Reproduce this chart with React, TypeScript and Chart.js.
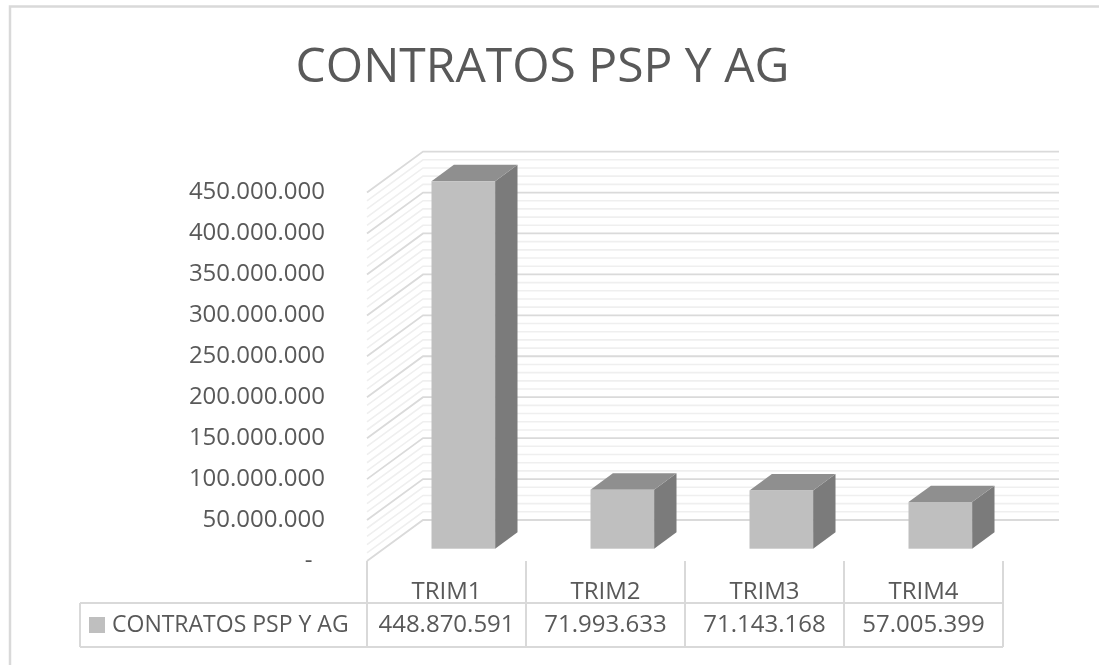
import React, { useEffect, useRef } from "react";
import { Chart, registerables } from "chart.js";

Chart.register(...registerables);

const TITLE = "CONTRATOS PSP Y AG";
const SERIES_NAME = "CONTRATOS PSP Y AG";
const categories = ["TRIM1", "TRIM2", "TRIM3", "TRIM4"];
const values = [448870591, 71993633, 71143168, 57005399];
const Y_MAX = 450000000;
const Y_MAJOR = 50000000;
const Y_MINOR = 10000000;

const FONT = "'Open Sans', 'Noto Sans', sans-serif";
const TEXT = "#595959";
const LINE = "#d9d9d9";

// 3D geometry (depth of the plot box)
const DX = 56;
const DY = -41;
const GAP_FRONT = 0.3;
const BAR_DEPTH = 0.4;

const fmt = (n: number) =>
  Math.round(n).toString().replace(/\B(?=(\d{3})+(?!\d))/g, ".");

const threeD = {
  id: "threeD",
  beforeDraw(chart: any) {
    const { ctx } = chart;
    ctx.save();
    ctx.strokeStyle = LINE;
    ctx.lineWidth = 2.5;
    ctx.strokeRect(10, 6.5, 1200, 800);
    ctx.restore();
  },
  beforeDatasetsDraw(chart: any) {
    const { ctx, chartArea } = chart;
    const ys = chart.scales.y;
    const L = chartArea.left;
    const R = chartArea.right;
    ctx.save();
    const drawLine = (v: number, color: string, w: number) => {
      const y = ys.getPixelForValue(v);
      ctx.strokeStyle = color;
      ctx.lineWidth = w;
      ctx.beginPath();
      ctx.moveTo(L, y);
      ctx.lineTo(L + DX, y + DY);
      ctx.lineTo(R + DX, y + DY);
      ctx.stroke();
    };
    for (let v = 0; v <= Y_MAX; v += Y_MINOR) {
      if (v % Y_MAJOR !== 0) drawLine(v, "#efefef", 1.6);
    }
    for (let v = 0; v <= Y_MAX; v += Y_MAJOR) drawLine(v, "#dadada", 1.8);
    ctx.restore();
  },
  afterDatasetsDraw(chart: any) {
    const { ctx } = chart;
    const meta = chart.getDatasetMeta(0);
    const ox = DX * GAP_FRONT;
    const oy = DY * GAP_FRONT;
    const bx = DX * BAR_DEPTH;
    const by = DY * BAR_DEPTH;
    ctx.save();
    meta.data.forEach((el: any) => {
      const { x, y, base, width } = el.getProps(["x", "y", "base", "width"], true);
      const x0 = x - width / 2 + ox;
      const x1 = x + width / 2 + ox;
      const y0 = y + oy;
      const y1 = base + oy;
      // right side
      ctx.fillStyle = "#7b7b7b";
      ctx.beginPath();
      ctx.moveTo(x1, y0);
      ctx.lineTo(x1 + bx, y0 + by);
      ctx.lineTo(x1 + bx, y1 + by);
      ctx.lineTo(x1, y1);
      ctx.closePath();
      ctx.fill();
      // top
      ctx.fillStyle = "#8f8f8f";
      ctx.beginPath();
      ctx.moveTo(x0, y0);
      ctx.lineTo(x1, y0);
      ctx.lineTo(x1 + bx, y0 + by);
      ctx.lineTo(x0 + bx, y0 + by);
      ctx.closePath();
      ctx.fill();
      // front
      ctx.fillStyle = "#bfbfbf";
      ctx.fillRect(x0, y0, x1 - x0, y1 - y0);
    });
    ctx.restore();
  },
  afterDraw(chart: any) {
    const { ctx, chartArea } = chart;
    const xs = chart.scales.x;
    const L = chartArea.left;
    const R = chartArea.right;
    const top = chartArea.bottom;
    const mid = top + 42;
    const bot = mid + 44;
    const legLeft = 80;
    const n = categories.length;
    const cw = (R - L) / n;
    ctx.save();
    ctx.strokeStyle = LINE;
    ctx.lineWidth = 2;
    ctx.beginPath();
    for (let i = 0; i <= n; i++) {
      const x = L + i * cw;
      ctx.moveTo(x, top);
      ctx.lineTo(x, bot);
    }
    ctx.moveTo(legLeft, mid);
    ctx.lineTo(R, mid);
    ctx.moveTo(legLeft, bot);
    ctx.lineTo(R, bot);
    ctx.moveTo(legLeft, mid);
    ctx.lineTo(legLeft, bot);
    ctx.stroke();

    const rowY = (mid + bot) / 2;
    ctx.fillStyle = "#bfbfbf";
    ctx.fillRect(89, rowY - 8, 16, 16);
    ctx.fillStyle = TEXT;
    ctx.font = `23px ${FONT}`;
    ctx.textBaseline = "middle";
    ctx.textAlign = "left";
    ctx.fillText(SERIES_NAME, 112, rowY);
    ctx.font = `24px ${FONT}`;
    ctx.textAlign = "center";
    values.forEach((v, i) => {
      ctx.fillText(fmt(v), xs.getPixelForTick(i), rowY);
    });
    ctx.restore();
  },
};

export default function App() {
  const ref = useRef<HTMLCanvasElement>(null);
  useEffect(() => {
    if (!ref.current) return;
    const chart = new Chart(ref.current, {
      type: "bar",
      data: {
        labels: categories,
        datasets: [
          {
            label: SERIES_NAME,
            data: values,
            backgroundColor: "rgba(0,0,0,0)",
            borderWidth: 0,
            barPercentage: 0.4,
            categoryPercentage: 1,
          },
        ],
      },
      options: {
        animation: false,
        responsive: false,
        events: [],
        layout: { padding: { left: 0, right: 14, top: 0, bottom: 0 } },
        plugins: {
          legend: { display: false },
          tooltip: { enabled: false },
          title: {
            display: true,
            text: TITLE,
            color: TEXT,
            font: { family: FONT, size: 48, weight: "normal" },
            padding: { top: 40, bottom: 95 },
          },
        },
        scales: {
          x: {
            grid: { display: false },
            border: { display: false },
            ticks: {
              color: TEXT,
              font: { family: FONT, size: 24 },
              padding: 9,
              maxRotation: 0,
            },
            afterFit: (s: any) => {
              s.height = 104;
            },
          },
          y: {
            min: 0,
            max: Y_MAX,
            grid: { display: false },
            border: { display: false },
            ticks: {
              stepSize: Y_MAJOR,
              color: TEXT,
              font: { family: FONT, size: 24 },
              padding: 34,
              callback: (v: any) => (Number(v) === 0 ? "-  " : fmt(Number(v))),
            },
            afterFit: (s: any) => {
              s.width = 367;
            },
          },
          yRight: {
            position: "right",
            min: 0,
            max: Y_MAX,
            grid: { display: false },
            border: { display: false },
            ticks: { display: false },
            afterFit: (s: any) => {
              s.width = 82;
            },
          },
        },
      },
      plugins: [threeD],
    });
    return () => chart.destroy();
  }, []);
  return (
    <div style={{ position: "fixed", left: 0, top: 0, width: 1099, height: 665, background: "#fff" }}>
      <canvas ref={ref} width={1099} height={665} />
    </div>
  );
}
